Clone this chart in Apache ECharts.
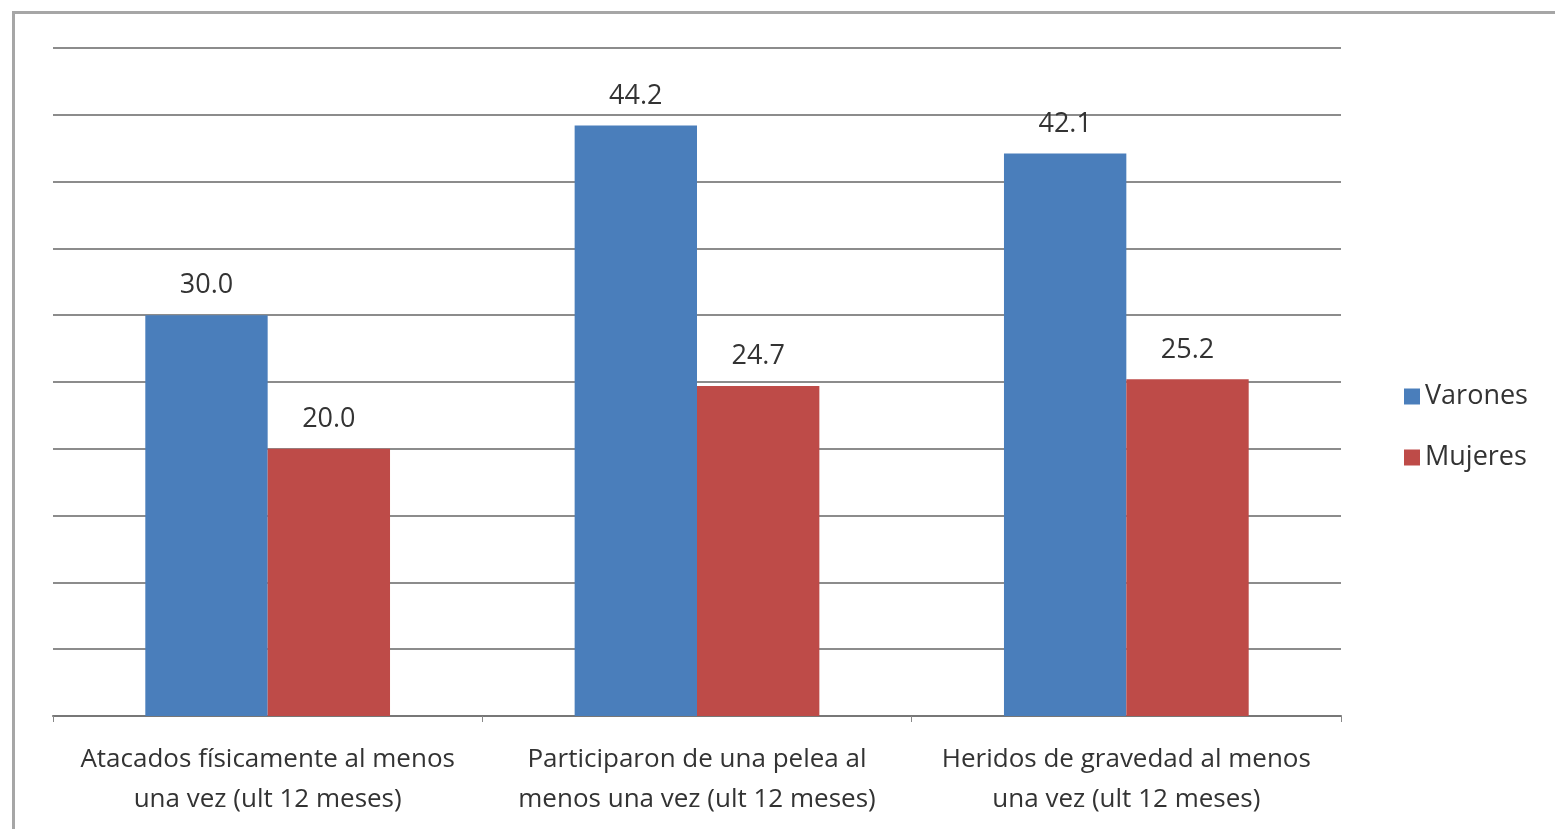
<!DOCTYPE html>
<html>
<head>
<meta charset="utf-8">
<script src="https://cdn.jsdelivr.net/npm/echarts@6/dist/echarts.min.js"></script>
<style>
html,body{margin:0;padding:0;background:#fff;}
#c{width:1555px;height:829px;}
</style>
</head>
<body>
<div id="c"></div>
<script>
const categories = [
  "Atacados físicamente al menos\nuna vez (ult 12 meses)",
  "Participaron de una pelea al\nmenos una vez (ult 12 meses)",
  "Heridos de gravedad al menos\nuna vez (ult 12 meses)"
];
const varones = [30.0, 44.2, 42.1];
const mujeres = [20.0, 24.7, 25.2];
const seriesNames = ["Varones", "Mujeres"];

const chart = echarts.init(document.getElementById('c'));
const font = "'Open Sans', 'Liberation Sans', sans-serif";
const labelCfg = {
  show: true, position: 'top', distance: 16,
  color: '#333', fontSize: 27, fontFamily: font,
  formatter: p => p.value.toFixed(1)
};
chart.setOption({
  animation: false,
  backgroundColor: '#fff',
  graphic: [{
    type: 'rect', left: 11, top: 10,
    shape: {width: 1600, height: 900},
    style: {fill: 'none', stroke: '#a6a6a6', lineWidth: 3},
    silent: true, z: -1
  }],
  grid: {left: 53, right: 214, top: 48, bottom: 113},
  legend: {
    orient: 'vertical', left: 1399, top: 378,
    itemWidth: 16, itemHeight: 16, itemGap: 34,
    icon: 'rect',
    textStyle: {fontSize: 27, color: '#333', fontFamily: font},
    data: seriesNames
  },
  xAxis: {
    type: 'category', data: categories,
    axisLine: {lineStyle: {color: '#777', width: 2}},
    axisTick: {show: true, length: 6, lineStyle: {color: '#888'}},
    axisLabel: {fontSize: 26, color: '#333', fontFamily: font, lineHeight: 40, margin: 24, interval: 0}
  },
  yAxis: {
    type: 'value', min: 0, max: 50, interval: 5,
    axisLabel: {show: false},
    axisLine: {show: false},
    axisTick: {show: false},
    splitLine: {lineStyle: {color: '#8c8c8c', width: 2}}
  },
  series: [
    {name: seriesNames[0], type: 'bar', data: varones, barGap: '0%', barCategoryGap: '43%',
     itemStyle: {color: '#4a7ebb'}, label: labelCfg},
    {name: seriesNames[1], type: 'bar', data: mujeres,
     itemStyle: {color: '#be4b48'}, label: labelCfg}
  ]
});
</script>
</body>
</html>
